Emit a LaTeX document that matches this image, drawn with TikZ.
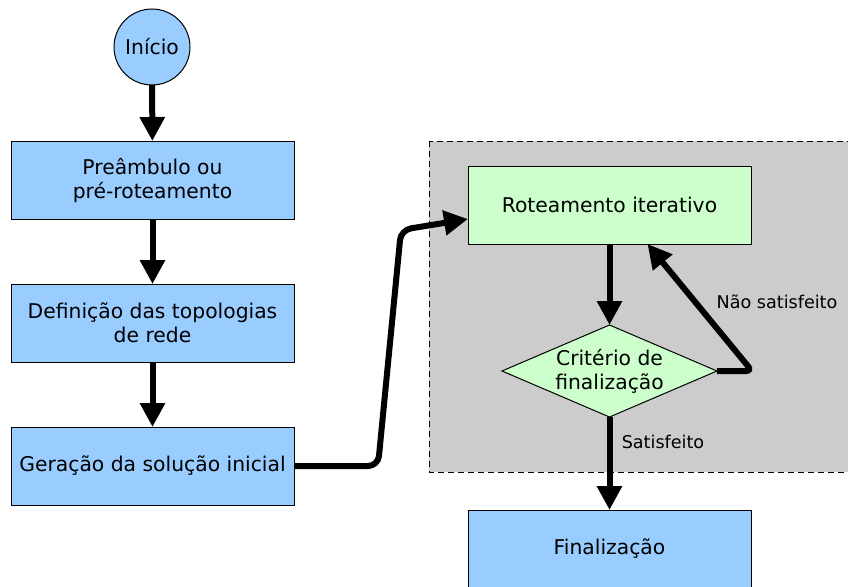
\documentclass[tikz,border=0pt]{standalone}
\usepackage{fontspec}
\setmainfont{DejaVu Sans}
\usetikzlibrary{arrows.meta,shapes.geometric}
\definecolor{boxblue}{HTML}{99CCFF}
\definecolor{boxgreen}{HTML}{CCFFCC}
\definecolor{regiongray}{HTML}{CCCCCC}
\begin{document}
\begin{tikzpicture}[x=1pt,y=-1pt,inner sep=0pt,outer sep=0pt,
stepblock/.style={draw,rectangle,fill=boxblue,line width=1pt,minimum width=283pt,minimum height=78pt,align=center,font=\fontsize{20.3}{24}\selectfont},
loopblock/.style={stepblock,fill=boxgreen},
flow/.style={line width=6pt,-{Triangle[length=24pt,width=24pt]}},
note/.style={font=\fontsize{17.6}{20}\selectfont}]
\useasboundingbox (0,0) rectangle (848,586);
\draw[dash pattern=on 6pt off 4pt,fill=regiongray] (429,141) rectangle (860,472);
\draw (152,47) node[draw,circle,fill=boxblue,line width=1pt,minimum size=76pt,font=\fontsize{20.3}{24}\selectfont] (start) {Início};
\draw (152.5,180) node[stepblock] (pre) {Preâmbulo ou\\pré-roteamento};
\draw (152.5,323) node[stepblock] (topo) {Definição das topologias\\de rede};
\draw (152.5,466) node[stepblock] (ini) {Geração da solução inicial};
\draw (609.5,205) node[loopblock] (rot) {Roteamento iterativo};
\draw (609.5,371) node[draw,diamond,fill=boxgreen,line width=1pt,inner sep=-3pt,aspect=2.5,minimum width=215pt,minimum height=92pt,align=center,font=\fontsize{20.3}{24}\selectfont] (crit) {Critério de\\finalização};
\draw (609.5,549) node[stepblock] (fim) {Finalização};
\coordinate (b1) at (378,466);
\coordinate (b2) at (401,230);
\coordinate (b3) at (752,371);

\draw[flow] (start) -- (pre);
\draw[flow] (pre) -- (topo);
\draw[flow] (topo) -- (ini);
\draw[flow,rounded corners=10pt] (ini.east) -- (b1) -- (b2) -- ([yshift=-14pt]rot.west);
\draw[flow] (rot) -- (crit);
\draw[flow,rounded corners=6pt] (crit.east) -- (b3) -- ([xshift=38pt]rot.south);
\draw[flow] (crit) -- (fim);
\draw (777,302) node[note] (nao) {Não satisfeito};
\draw (663,442) node[note] (sat) {Satisfeito};
\end{tikzpicture}
\end{document}
